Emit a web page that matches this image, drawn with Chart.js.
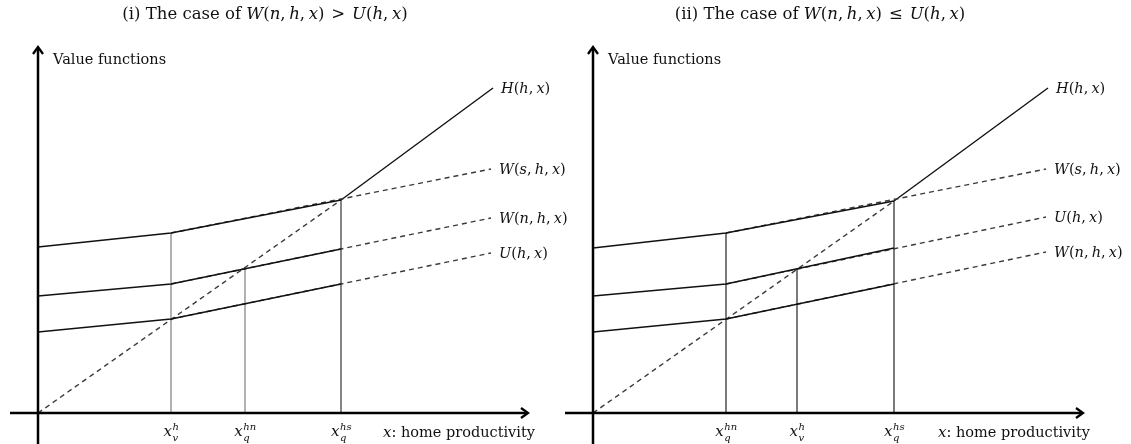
<!DOCTYPE html>
<html><head><meta charset="utf-8">
<script src="https://cdn.jsdelivr.net/npm/chart.js@4/dist/chart.umd.min.js"></script>
<style>
html,body{margin:0;padding:0;background:#fff;}
#wrap{position:relative;width:1131px;height:444px;overflow:hidden;background:#fff;}
canvas{position:absolute;top:0;}
</style></head><body>
<div id="wrap"><canvas id="c1" width="576" height="444" style="left:0"></canvas><canvas id="c2" width="576" height="444" style="left:555px"></canvas></div>
<script>
// ---------------- data ----------------
const titleTextI = "(i) The case of ";
const titleMathI = "W(n,h,x) > U(h,x)";
const titleTextII = "(ii) The case of ";
const titleMathII = "W(n,h,x) ≤ U(h,x)";
const yAxisLabel = "Value functions";
const xAxisLabel = "home productivity";

// panel (i)
const kinksI = [0, 1.33, 3.03];            // x where the solid envelopes bend / end
const upperSolidI = [1.66, 1.80, 2.13];
const middleSolidI = [1.17, 1.29, 1.64];
const lowerSolidI = [0.81, 0.94, 1.29];
const dashEndXI = 4.53;
const dashEndsI = [2.44, 1.95, 1.60];      // upper, middle, lower dashed lines at dashEndXI
const hEndI = [4.55, 3.25];
const thresholdsI = [1.33, 2.07, 3.03];
const thresholdTopsI = [1.80, 1.45, 2.13];
const thresholdSubI = ["v", "q", "q"];
const thresholdSupI = ["h", "hn", "hs"];
const curveLabelsI = ["H(h,x)", "W(s,h,x)", "W(n,h,x)", "U(h,x)"];

// panel (ii)
const kinksII = [0, 1.33, 3.01];
const upperSolidII = [1.65, 1.80, 2.12];
const middleSolidII = [1.17, 1.29, 1.65];
const lowerSolidII = [0.81, 0.94, 1.29];
const dashEndXII = 4.53;
const dashEndsII = [2.44, 1.96, 1.61];
const hEndII = [4.55, 3.25];
const thresholdsII = [1.33, 2.04, 3.01];
const thresholdTopsII = [1.80, 1.44, 2.12];
const thresholdSubII = ["q", "v", "q"];
const thresholdSupII = ["hn", "h", "hs"];
const curveLabelsII = ["H(h,x)", "W(s,h,x)", "U(h,x)", "W(n,h,x)"];

// ---------------- helpers ----------------
const SERIF = '"DejaVu Serif", "Liberation Serif", serif';
function font(size, it){ return (it ? 'italic ' : '') + size + 'px ' + SERIF; }

function mathRuns(str, size){
  const runs = [];
  for (const ch of str){
    if (/[A-Za-z]/.test(ch)) runs.push({t:ch, it:true, size});
    else if (ch === ',') { runs.push({t:',', it:false, size}); runs.push({t:'', gap:size*0.22}); }
    else if (ch === ' ') runs.push({t:'', gap:size*0.42});
    else runs.push({t:ch, it:false, size});
  }
  return runs;
}
function runsWidth(ctx, runs){
  let w = 0;
  for (const r of runs){ if (r.gap) { w += r.gap; continue; } ctx.font = font(r.size, r.it); w += ctx.measureText(r.t).width; }
  return w;
}
function drawRuns(ctx, runs, x, y, align){
  const w = runsWidth(ctx, runs);
  let cx = align === 'center' ? x - w/2 : x;
  ctx.textBaseline = 'alphabetic'; ctx.textAlign = 'left';
  for (const r of runs){
    if (r.gap) { cx += r.gap; continue; }
    ctx.font = font(r.size, r.it);
    ctx.fillText(r.t, cx, y + (r.dy || 0));
    cx += ctx.measureText(r.t).width;
  }
}

function buildPanel(k, up, mid, lo, dx, de, hEnd){
  const solid = {borderColor:'#111', borderWidth:1.4};
  const dashed = {borderColor:'#3a3a3a', borderWidth:1.4, borderDash:[5,4]};
  const ds = [];
  const mk = (pts, st) => Object.assign({data:pts, showLine:true, pointRadius:0, clip:false, fill:false}, st);
  ds.push(mk(k.map((x,i)=>({x, y:up[i]})), solid));
  ds.push(mk(k.map((x,i)=>({x, y:mid[i]})), solid));
  ds.push(mk(k.map((x,i)=>({x, y:lo[i]})), solid));
  ds.push(mk([{x:k[1], y:up[1]}, {x:dx, y:de[0]}], dashed));
  ds.push(mk([{x:k[1], y:mid[1]}, {x:dx, y:de[1]}], dashed));
  ds.push(mk([{x:k[1], y:lo[1]}, {x:dx, y:de[2]}], dashed));
  ds.push(mk([{x:0, y:0}, {x:k[2], y:up[2]}], dashed));
  ds.push(mk([{x:k[2], y:up[2]}, {x:hEnd[0], y:hEnd[1]}], solid));
  return ds;
}
function verticals(th, tops, colors){
  return th.map((x,i)=>({data:[{x, y:0},{x, y:tops[i]}], showLine:true, pointRadius:0, clip:false,
    borderColor:colors[i], borderWidth:1.3}));
}

const panelCfg = {
  c1: {title:titleTextI, math:titleMathI, labels:curveLabelsI, th:thresholdsI, sub:thresholdSubI, sup:thresholdSupI},
  c2: {title:titleTextII, math:titleMathII, labels:curveLabelsII, th:thresholdsII, sub:thresholdSubII, sup:thresholdSupII}
};

const decor = {
  id:'decor',
  afterDraw(chart){
    const p = panelCfg[chart.canvas.id];
    const {ctx} = chart;
    const {left:L, right:R, top:T, bottom:B} = chart.chartArea;
    const xs = chart.scales.x;
    ctx.save();
    ctx.strokeStyle = '#000'; ctx.fillStyle = '#111';
    // axes
    ctx.lineWidth = 2.5;
    ctx.beginPath(); ctx.moveTo(L, chart.height); ctx.lineTo(L, T+1); ctx.stroke();
    ctx.beginPath(); ctx.moveTo(L-28, B); ctx.lineTo(R-1, B); ctx.stroke();
    ctx.lineWidth = 2.3; ctx.lineJoin = 'miter';
    ctx.beginPath(); ctx.moveTo(L-5, T+7); ctx.lineTo(L, T); ctx.lineTo(L+5, T+7); ctx.stroke();
    ctx.beginPath(); ctx.moveTo(R-7, B-5); ctx.lineTo(R, B); ctx.lineTo(R-7, B+5); ctx.stroke();
    // title
    const tRuns = [{t:p.title, it:false, size:16.5}].concat(mathRuns(p.math, 16.5));
    drawRuns(ctx, tRuns, L + 227, 19, 'center');
    // y axis label
    drawRuns(ctx, [{t:yAxisLabel, it:false, size:14.5}], L + 15, 64, 'left');
    // x axis label
    drawRuns(ctx, [{t:'x', it:true, size:15}, {t:': ' + xAxisLabel, it:false, size:14.5}], L + 345, 437, 'left');
    // threshold tick labels
    p.th.forEach((v,i)=>{
      const px = xs.getPixelForValue(v);
      ctx.font = font(15, true); const wx = ctx.measureText('x').width;
      ctx.font = font(10, true); const ws = Math.max(ctx.measureText(p.sub[i]).width, ctx.measureText(p.sup[i]).width);
      const x0 = px - (wx + ws)/2;
      ctx.textBaseline = 'alphabetic'; ctx.textAlign = 'left';
      ctx.font = font(15, true); ctx.fillText('x', x0, 436);
      ctx.font = font(10, true);
      ctx.fillText(p.sup[i], x0 + wx + 0.5, 430);
      ctx.fillText(p.sub[i], x0 + wx + 0.5, 441);
    });
    // curve labels
    const map = [[7,0],[3,1],[4,2],[5,3]];
    map.forEach(([di, li])=>{
      const pts = chart.getDatasetMeta(di).data;
      const e = pts[pts.length-1];
      drawRuns(ctx, mathRuns(p.labels[li], 14.5), e.x + 8, e.y + 5, 'left');
    });
    ctx.restore();
  }
};

function makeChart(id, datasets){
  return new Chart(document.getElementById(id), {
    type:'scatter',
    data:{datasets},
    options:{
      responsive:false, animation:false, events:[],
      layout:{padding:{left:38, right:48, top:47, bottom:31}},
      scales:{x:{type:'linear', min:0, max:4.9, display:false}, y:{type:'linear', min:0, max:3.66, display:false}},
      plugins:{legend:{display:false}, tooltip:{enabled:false}, title:{display:false}},
      elements:{point:{radius:0}, line:{tension:0}}
    },
    plugins:[decor]
  });
}

makeChart('c1', buildPanel(kinksI, upperSolidI, middleSolidI, lowerSolidI, dashEndXI, dashEndsI, hEndI)
  .concat(verticals(thresholdsI, thresholdTopsI, ['#888','#888','#444'])));
makeChart('c2', buildPanel(kinksII, upperSolidII, middleSolidII, lowerSolidII, dashEndXII, dashEndsII, hEndII)
  .concat(verticals(thresholdsII, thresholdTopsII, ['#333','#333','#333'])));
</script>
</body></html>
